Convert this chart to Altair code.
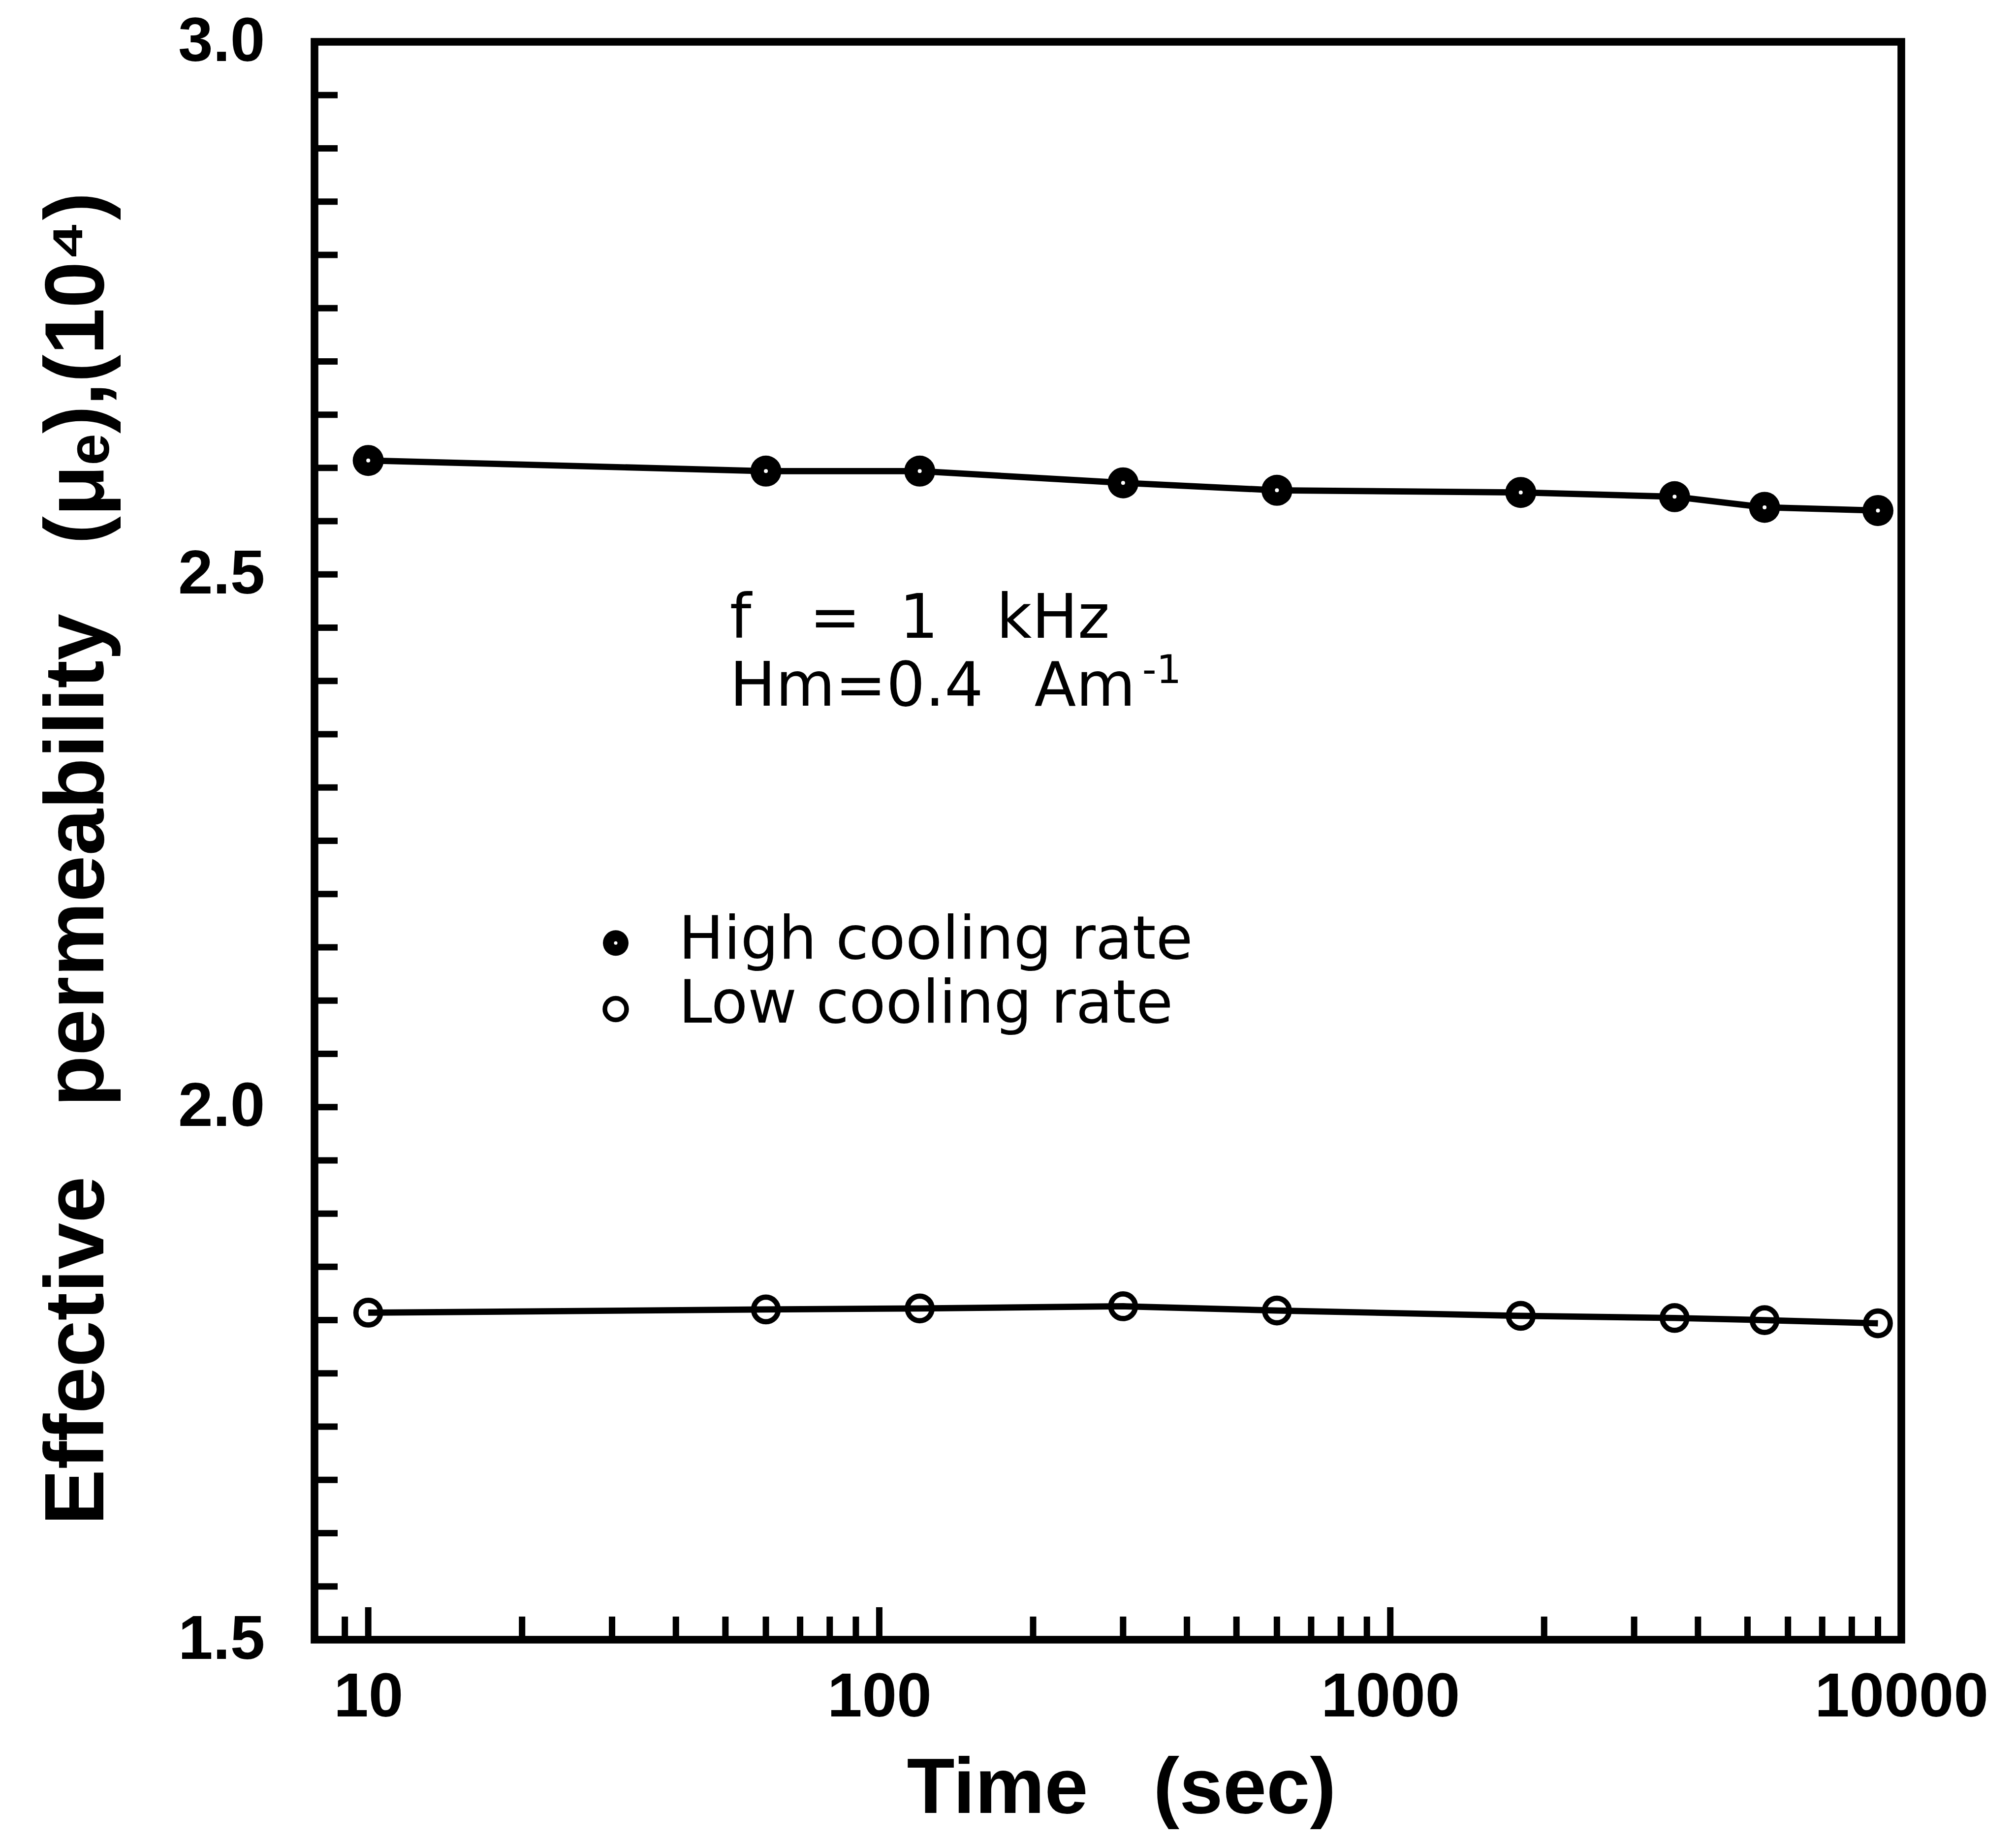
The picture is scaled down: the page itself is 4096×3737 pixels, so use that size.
import altair as alt
import pandas as pd

S = 0.976  # scale from reference pixels

# ---------------- data ----------------
time_s = [10, 60, 120, 300, 600, 1800, 3600, 5400, 9000]
mu_high = [2.607, 2.597, 2.597, 2.586, 2.579, 2.577, 2.573, 2.563, 2.560]
mu_low = [1.807, 1.810, 1.811, 1.813, 1.809, 1.804, 1.802, 1.800, 1.797]

x_label_values = [10, 100, 1000, 10000]
y_label_values = [1.5, 2.0, 2.5, 3.0]
x_major_ticks = [10, 100, 1000]
x_minor_ticks = [9, 20, 30, 40, 50, 60, 70, 80, 90,
                 200, 300, 400, 500, 600, 700, 800, 900,
                 2000, 3000, 4000, 5000, 6000, 7000, 8000, 9000]
y_ticks = [1.55, 1.60, 1.65, 1.70, 1.75, 1.80, 1.85, 1.90, 1.95, 2.00,
           2.05, 2.10, 2.15, 2.20, 2.25, 2.30, 2.35, 2.40, 2.45, 2.50,
           2.55, 2.60, 2.65, 2.70, 2.75, 2.80, 2.85, 2.90, 2.95]

legend_labels = ["High cooling rate", "Low cooling rate"]
legend_marker_x = [30.5, 30.5]
legend_marker_y = [2.154, 2.092]
legend_text_x = [40.5, 40.5]
legend_text_y = [2.1395, 2.0795]

NB = "\u00a0"
annot_lines = ["f" + NB * 3 + "=" + NB * 2 + "1" + NB * 3 + "kHz",
               "Hm=0.4" + NB * 2 + "\u2009Am"]
annot_x = [51, 51]
annot_y = [2.4405, 2.377]
sup_text = ["-1"]
sup_x = [327]
sup_y = [2.398]

# ---------------- geometry ----------------
W = round(3303 * S)
H = round(3327 * S)

xscale = alt.Scale(type="log", domain=[7.85, 10000], nice=False)
yscale = alt.Scale(domain=[1.5, 3.0], nice=False, zero=False)

df = pd.DataFrame({
    "time": time_s + time_s,
    "mu": mu_high + mu_low,
    "series": ["High"] * len(time_s) + ["Low"] * len(time_s),
})
df_high = pd.DataFrame({"time": time_s, "mu": mu_high})
df_low = pd.DataFrame({"time": time_s, "mu": mu_low})

x_axis = alt.Axis(
    values=x_label_values, format="d",
    labelFont="Liberation Sans", labelFontWeight="bold", labelFontSize=127,
    labelColor="black", labelPadding=55, labelFlush=False, labelOverlap=False,
    labelLimit=0, labelBound=False,
    ticks=False, domain=False, grid=False,
    title="Time" + NB * 3 + "(sec)", titleFont="Liberation Sans",
    titleFontWeight="bold", titleFontSize=159, titleColor="black", titlePadding=45,
    titleLimit=0, titleX=W / 2 + 27,
)
y_axis = alt.Axis(
    values=y_label_values, format=".1f",
    labelFont="Liberation Sans", labelFontWeight="bold", labelFontSize=127,
    labelColor="black", labelPadding=101, labelFlush=False, labelOverlap=False,
    labelLimit=0, labelBound=False,
    ticks=False, domain=False, grid=False,
    title="Effective" + NB * 3 + "permeability" + NB * 3 + "(\u03bc\u2091),(10\u2074)",
    titleFont="Liberation Sans", titleFontWeight="bold", titleFontSize=170,
    titleColor="black", titlePadding=194, titleLimit=0, titleY=H / 2 + 36,
)


def X(field):
    return alt.X(field, scale=xscale, axis=x_axis)


def Y(field):
    return alt.Y(field, scale=yscale, axis=y_axis)


lines = alt.Chart(df).mark_line(color="black", strokeWidth=12.7, strokeJoin="round").encode(
    x=X("time:Q"), y=Y("mu:Q"), detail="series:N",
)

high_pts = alt.Chart(df_high).mark_point(
    shape="circle", filled=True, color="black", opacity=1, size=63 ** 2, strokeWidth=0
).encode(x=X("time:Q"), y=Y("mu:Q"))
high_specks = alt.Chart(df_high).mark_point(
    shape="circle", filled=True, color="white", opacity=1, size=64, strokeWidth=0
).encode(x=X("time:Q"), y=Y("mu:Q"))
low_pts = alt.Chart(df_low).mark_point(
    shape="circle", filled=False, color="black", opacity=1, size=50 ** 2, strokeWidth=10.7
).encode(x=X("time:Q"), y=Y("mu:Q"))

# inward ticks
xt_minor = alt.Chart(pd.DataFrame({"time": x_minor_ticks})).mark_rule(color="black", strokeWidth=13).encode(
    x=X("time:Q"), y=alt.value(H), y2=alt.value(H - 47))
xt_major = alt.Chart(pd.DataFrame({"time": x_major_ticks})).mark_rule(color="black", strokeWidth=13).encode(
    x=X("time:Q"), y=alt.value(H), y2=alt.value(H - 66))
yt = alt.Chart(pd.DataFrame({"mu": y_ticks})).mark_rule(color="black", strokeWidth=13).encode(
    y=Y("mu:Q"), x=alt.value(0), x2=alt.value(47))

# annotation
annot = alt.Chart(pd.DataFrame({"time": annot_x, "mu": annot_y, "t": annot_lines})).mark_text(
    align="left", baseline="alphabetic", font="DejaVu Sans", fontSize=124, color="black"
).encode(x=X("time:Q"), y=Y("mu:Q"), text="t:N")
sup = alt.Chart(pd.DataFrame({"time": sup_x, "mu": sup_y, "t": sup_text})).mark_text(
    align="left", baseline="alphabetic", font="DejaVu Sans", fontSize=80, color="black"
).encode(x=X("time:Q"), y=Y("mu:Q"), text="t:N")

# legend
leg_m = pd.DataFrame({"time": legend_marker_x, "mu": legend_marker_y})
leg_t = pd.DataFrame({"time": legend_text_x, "mu": legend_text_y, "label": legend_labels})
leg_high = alt.Chart(leg_m.iloc[[0]]).mark_point(
    shape="circle", filled=True, color="black", opacity=1, size=52 ** 2, strokeWidth=0
).encode(x=X("time:Q"), y=Y("mu:Q"))
leg_high_speck = alt.Chart(leg_m.iloc[[0]]).mark_point(
    shape="circle", filled=True, color="white", opacity=1, size=49, strokeWidth=0
).encode(x=X("time:Q"), y=Y("mu:Q"))
leg_low = alt.Chart(leg_m.iloc[[1]]).mark_point(
    shape="circle", filled=False, color="black", opacity=1, size=44 ** 2, strokeWidth=9.5
).encode(x=X("time:Q"), y=Y("mu:Q"))
leg_text = alt.Chart(leg_t).mark_text(
    align="left", baseline="alphabetic", font="DejaVu Sans", fontSize=122, color="black"
).encode(x=X("time:Q"), y=Y("mu:Q"), text="label:N")

chart = alt.layer(
    lines, xt_minor, xt_major, yt, high_pts, high_specks, low_pts,
    annot, sup, leg_high, leg_high_speck, leg_low, leg_text,
).properties(
    width=W, height=H,
    autosize=alt.AutoSizeParams(type="none"),
    padding={"left": 631, "top": 77, "right": 200, "bottom": 395},
    background="white",
).configure_view(stroke="black", strokeWidth=15.6)

chart.save("out.html", embed_options={"renderer": "svg", "actions": False})
